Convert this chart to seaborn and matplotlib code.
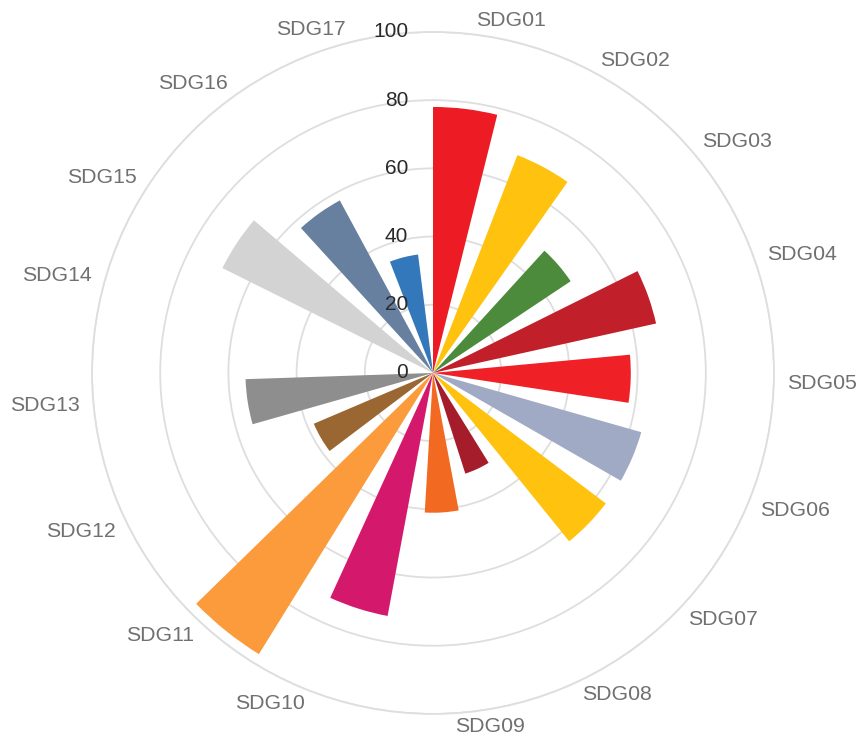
import numpy as np
import pandas as pd
import matplotlib
matplotlib.use('Agg')
import matplotlib.pyplot as plt
import seaborn as sns

# data
goals = ['SDG01', 'SDG02', 'SDG03', 'SDG04', 'SDG05', 'SDG06', 'SDG07', 'SDG08', 'SDG09',
         'SDG10', 'SDG11', 'SDG12', 'SDG13', 'SDG14', 'SDG15', 'SDG16', 'SDG17']
scores = [78, 68.5, 48.5, 67, 58, 63.5, 63.5, 31, 41, 72.5, 97, 38, 55, 0, 69, 57.5, 35]
colors = ['#ED1C24', '#FFC20E', '#4C8B3B', '#C1202B', '#EF2026', '#A0AAC4', '#FFC20E',
          '#A51C2A', '#F26A22', '#D4196D', '#FB9B3C', '#9A6632', '#8E8E8E', '#0A97D9',
          '#D3D3D3', '#6880A0', '#3478BC']
rticks = [0, 20, 40, 60, 80, 100]

sns.set_style('white')
plt.rcParams['font.family'] = ['Liberation Sans', 'DejaVu Sans']

n = len(goals)
step = 2 * np.pi / n
bar_frac = 0.66
# bars start at the left edge of each sector, so the center sits a third in
theta = np.arange(n) * step + bar_frac * step / 2

df = pd.DataFrame({'theta': theta, 'score': scores, 'goal': goals})

fig = plt.figure(figsize=(8.6, 7.35), dpi=100)
ax = fig.add_axes([0.107, 0.0286, 0.793, 0.928], projection='polar')
ax.set_theta_zero_location('N')
ax.set_theta_direction(-1)

sns.barplot(data=df, x='theta', y='score', hue='goal', palette=colors,
            native_scale=True, width=bar_frac, orient='x', dodge=False,
            saturation=1, errorbar=None, legend=False, linewidth=0, ax=ax)

ax.set_xlim(0, 2 * np.pi)
ax.set_ylim(0, 100)
ax.set_xlabel('')
ax.set_ylabel('')

ax.set_xticks([])
ax.set_yticks(rticks[1:])
ax.set_yticklabels([])
ax.xaxis.grid(False)
ax.yaxis.grid(True, color='#dedede', linewidth=1.3)
ax.spines['polar'].set_color('#dedede')
ax.spines['polar'].set_linewidth(1.3)
ax.tick_params(axis='y', length=0)

for r in rticks:
    ax.annotate(str(r), xy=(0, r), xytext=(-18, 0), textcoords='offset points',
                ha='right', va='center', fontsize=15, color='#2a2a2a')

for k, name in enumerate(goals):
    t = theta[k]
    # lower-left labels sit closer to the middle of their sector
    if np.pi < t < np.radians(290):
        t += (1 - bar_frac) * step / 2
    s = np.sin(t)
    ha = 'left' if s > 0.02 else ('right' if s < -0.02 else 'center')
    ax.text(t, 104, name, ha=ha, va='center', fontsize=15.3, color='#707070')

fig.savefig('out.png', dpi=100)
